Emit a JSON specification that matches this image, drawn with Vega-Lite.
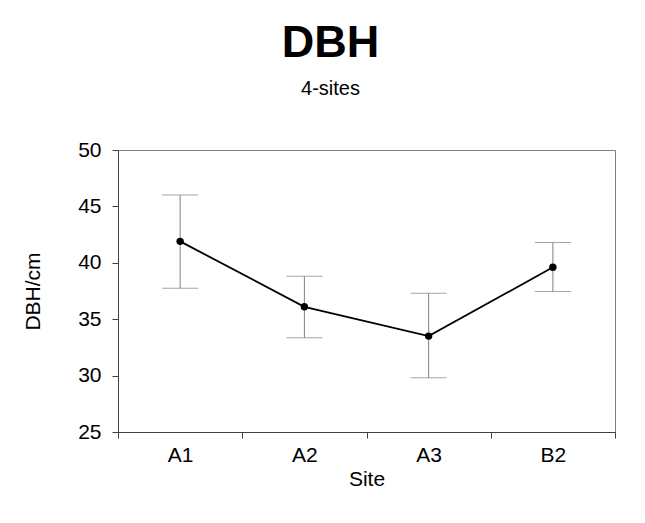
{
  "$schema": "https://vega.github.io/schema/vega-lite/v6.json",
  "autosize": "none",
  "width": 497,
  "height": 282,
  "padding": {"left": 118, "top": 150, "right": 30, "bottom": 91},
  "background": "white",
  "config": {
    "font": "Liberation Sans",
    "view": {"stroke": "#808080", "strokeWidth": 1}
  },
  "title": {
    "text": "DBH",
    "subtitle": "4-sites",
    "fontSize": 45,
    "fontWeight": "bold",
    "color": "black",
    "subtitleFontSize": 20,
    "subtitleColor": "black",
    "subtitlePadding": 13,
    "anchor": "middle",
    "frame": "group",
    "dx": -36,
    "offset": 40
  },
  "data": {
    "values": [
      {"Site": "A1", "mean": 41.9, "lo": 37.75, "hi": 46.0},
      {"Site": "A2", "mean": 36.1, "lo": 33.35, "hi": 38.8},
      {"Site": "A3", "mean": 33.5, "lo": 29.8, "hi": 37.3},
      {"Site": "B2", "mean": 39.6, "lo": 37.45, "hi": 41.8}
    ]
  },
  "encoding": {
    "x": {
      "field": "Site",
      "type": "nominal",
      "sort": null,
      "scale": {"type": "band", "paddingInner": 0, "paddingOuter": 0},
      "axis": {
        "title": "Site",
        "labelAngle": 0,
        "tickBand": "extent",
        "tickSize": 6,
        "tickColor": "#404040",
        "domainColor": "#404040",
        "labelFontSize": 21,
        "labelColor": "black",
        "labelPadding": 6,
        "titleFontSize": 21,
        "titleFontWeight": "normal",
        "titleColor": "black",
        "titlePadding": 3,
        "grid": false
      }
    }
  },
  "layer": [
    {
      "mark": {"type": "rule", "color": "#808080", "strokeWidth": 1},
      "encoding": {
        "y": {
          "field": "lo",
          "type": "quantitative",
          "scale": {"domain": [25, 50], "nice": false, "zero": false},
          "axis": {
            "title": "DBH/cm",
            "values": [25, 27.5, 30, 32.5, 35, 37.5, 40, 42.5, 45, 47.5, 50],
            "labelExpr": "datum.value % 5 === 0 ? datum.label : ''",
            "tickSize": {"condition": {"test": "datum.value % 5 === 0", "value": 6}, "value": 3},
            "tickColor": {"condition": {"test": "datum.value % 5 === 0", "value": "#404040"}, "value": "#a0a0a0"},
            "domainColor": "#404040",
            "labelFontSize": 21,
            "labelColor": "black",
            "labelPadding": 11,
            "labelBound": false,
            "labelFlush": false,
            "labelOverlap": false,
            "titleFontSize": 21,
            "titleFontWeight": "normal",
            "titleColor": "black",
            "titlePadding": 34,
            "grid": false
          }
        },
        "y2": {"field": "hi"}
      }
    },
    {
      "mark": {"type": "tick", "color": "#808080", "size": 36, "thickness": 1},
      "encoding": {"y": {"field": "hi", "type": "quantitative"}}
    },
    {
      "mark": {"type": "tick", "color": "#808080", "size": 36, "thickness": 1},
      "encoding": {"y": {"field": "lo", "type": "quantitative"}}
    },
    {
      "mark": {"type": "line", "color": "black", "strokeWidth": 1.8},
      "encoding": {"y": {"field": "mean", "type": "quantitative"}}
    },
    {
      "mark": {"type": "point", "filled": true, "color": "black", "opacity": 1, "size": 55},
      "encoding": {"y": {"field": "mean", "type": "quantitative"}}
    }
  ]
}
